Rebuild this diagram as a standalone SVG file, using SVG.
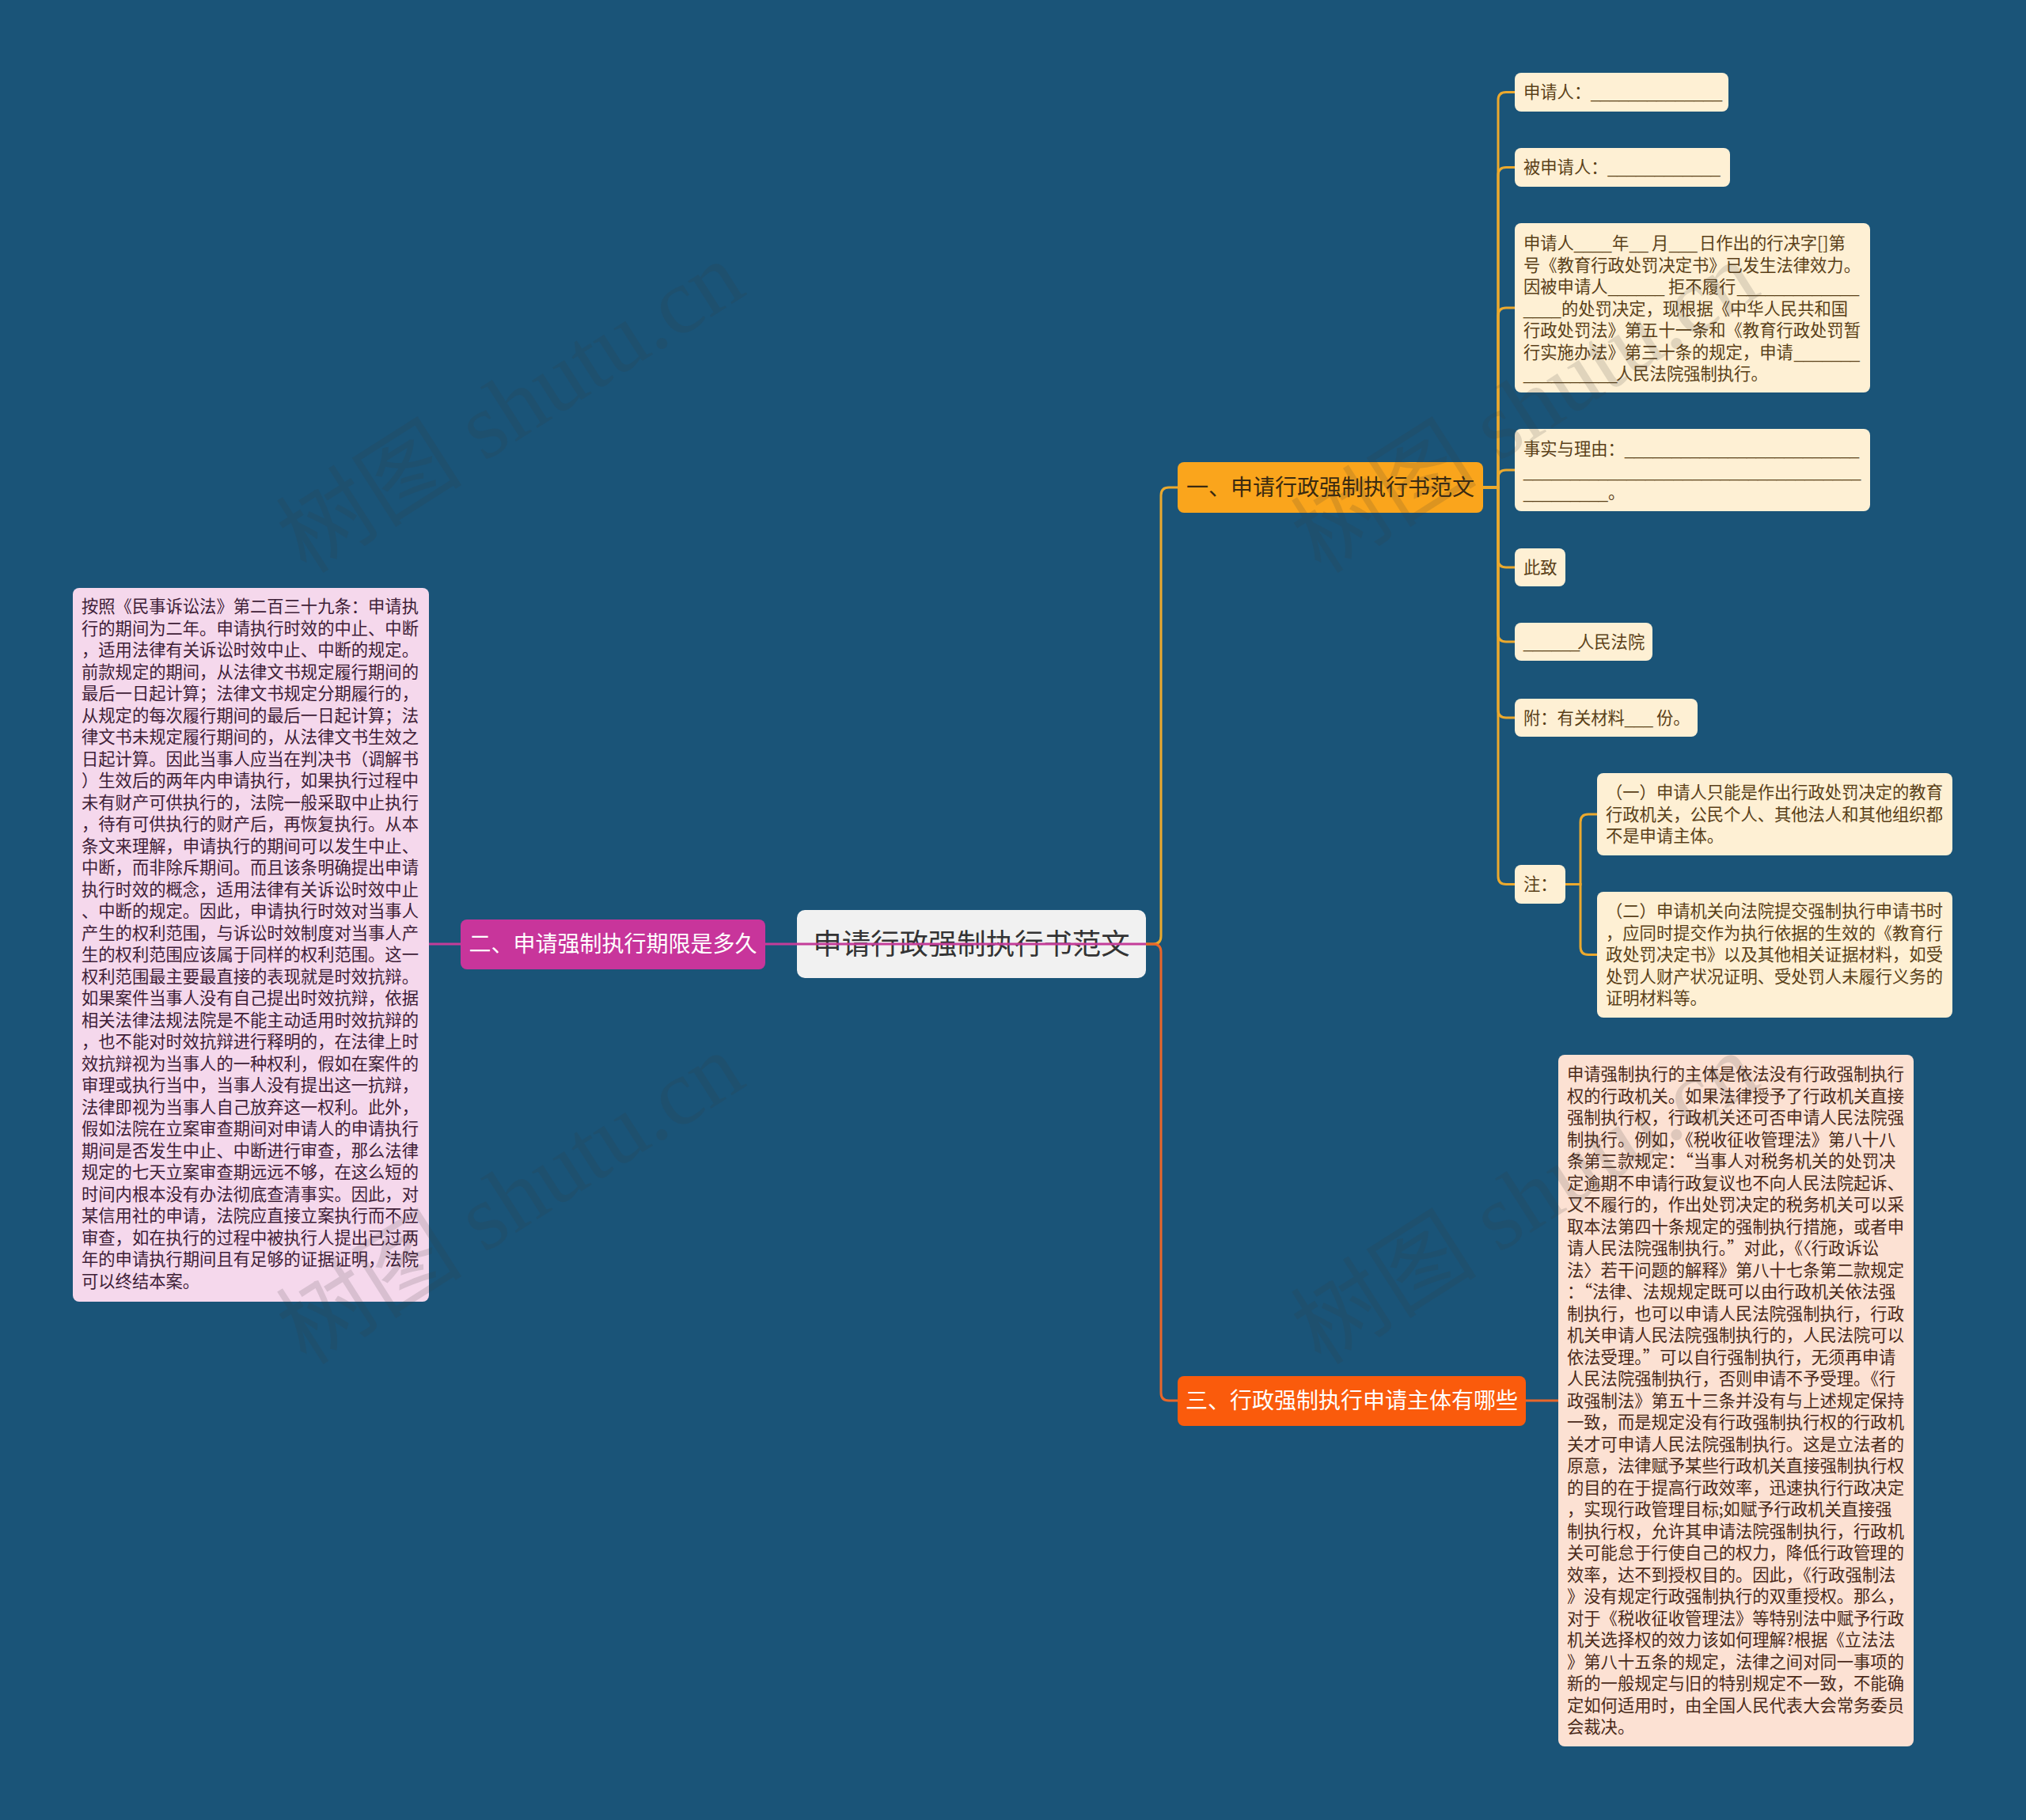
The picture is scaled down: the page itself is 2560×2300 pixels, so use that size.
<svg xmlns="http://www.w3.org/2000/svg" width="2560" height="2300" viewBox="0 0 2560 2300">
<style>
.t{font-family:'Noto Sans CJK SC','Noto Sans',sans-serif;font-size:21.3px}
.u{font-family:'Liberation Sans',sans-serif}
.cream{fill:#FEF0D4}
.ct{fill:#5a4018}
.pt{fill:#3e2037}
.ot{fill:#4a2a1a}
.bt{font-family:'Noto Sans CJK SC','Noto Sans',sans-serif;font-size:28px;text-anchor:middle}
.ly{fill:none;stroke:#EBA92E;stroke-width:3}
.lm{fill:none;stroke:#C43D99;stroke-width:3}
.lo{fill:none;stroke:#E8662A;stroke-width:3}
.wm{font-family:'Liberation Serif','Noto Sans CJK SC',serif;font-size:118px;fill:#3a3a3a;opacity:0.15;text-anchor:middle}
</style>
<rect x="0" y="0" width="2560" height="2300" fill="#1a5478"/>

<g id="root">
<rect x="1007" y="1150" width="441" height="86" rx="10" fill="#F1F1F1"/>
<text x="1227.5" y="1206" font-family="'Noto Sans CJK SC','Noto Sans',sans-serif" font-size="36.4" fill="#333333" text-anchor="middle">申请行政强制执行书范文</text>
</g>

<g id="branch1">
<rect x="1488" y="584" width="386" height="64" rx="8" fill="#FAA51C"/>
<text class="bt" x="1681" y="626" fill="#3a2a10">一、申请行政强制执行书范文</text>
</g>

<g id="branch2">
<rect x="582" y="1162" width="385" height="63" rx="8" fill="#C8359B"/>
<text class="bt" x="774.5" y="1203" fill="#ffffff">二、申请强制执行期限是多久</text>
</g>

<g id="branch3">
<rect x="1488" y="1739" width="440" height="63" rx="8" fill="#FA5B0C"/>
<text class="bt" x="1708" y="1780" fill="#ffffff">三、行政强制执行申请主体有哪些</text>
</g>

<g id="leaf-applicant">
<rect class="cream" x="1914" y="92" width="270" height="49" rx="8"/>
<text class="t ct" x="1925" y="124">申请人：<tspan class="u">______________</tspan></text>
</g>

<g id="leaf-respondent">
<rect class="cream" x="1914" y="187" width="272" height="49" rx="8"/>
<text class="t ct" x="1925" y="219">被申请人：<tspan class="u">____________</tspan></text>
</g>

<g id="leaf-body">
<rect class="cream" x="1914" y="282" width="449" height="214" rx="8"/>
<text class="t ct">
<tspan x="1925" y="315">申请人</tspan><tspan class="u" x="1989" y="315">____</tspan><tspan x="2037" y="315">年</tspan><tspan class="u" x="2059" y="315">__</tspan><tspan x="2087" y="315">月</tspan><tspan class="u" x="2109" y="315">___</tspan><tspan x="2147" y="315">日作出的行决字[]第</tspan>
<tspan x="1925" y="342.5">号《教育行政处罚决定书》已发生法律效力。</tspan>
<tspan x="1925" y="370">因被申请人</tspan><tspan class="u" x="2032" y="370">______</tspan><tspan x="2108" y="370">拒不履行</tspan><tspan class="u" x="2195" y="370">_____________</tspan>
<tspan class="u" x="1925" y="397.5">____</tspan><tspan x="1973" y="397.5">的处罚决定，现根据《中华人民共和国</tspan>
<tspan x="1925" y="425">行政处罚法》第五十一条和《教育行政处罚暂</tspan>
<tspan x="1925" y="452.5">行实施办法》第三十条的规定，申请</tspan><tspan class="u" x="2267" y="452.5">_______</tspan>
<tspan class="u" x="1925" y="480">__________</tspan><tspan x="2042" y="480">人民法院强制执行。</tspan>
</text>
</g>

<g id="leaf-facts">
<rect class="cream" x="1914" y="542" width="449" height="104" rx="8"/>
<text class="t ct">
<tspan x="1925" y="575">事实与理由：</tspan><tspan class="u" x="2053" y="575">_________________________</tspan>
<tspan class="u" x="1925" y="602.5">____________________________________</tspan>
<tspan class="u" x="1925" y="630">_________</tspan><tspan x="2032" y="630">。</tspan>
</text>
</g>

<g id="leaf-cizhi">
<rect class="cream" x="1914" y="693" width="64" height="48" rx="8"/>
<text class="t ct" x="1925" y="724.5">此致</text>
</g>

<g id="leaf-court">
<rect class="cream" x="1914" y="787" width="174" height="48" rx="8"/>
<text class="t ct" y="818.5"><tspan class="u" x="1925">______</tspan><tspan x="1993">人民法院</tspan></text>
</g>

<g id="leaf-attach">
<rect class="cream" x="1914" y="883" width="231" height="48" rx="8"/>
<text class="t ct" y="914.5"><tspan x="1925">附：有关材料</tspan><tspan class="u" x="2053">___</tspan><tspan x="2093">份。</tspan></text>
</g>

<g id="leaf-note">
<rect class="cream" x="1914" y="1093" width="64" height="49" rx="8"/>
<text class="t ct" x="1925" y="1125">注：</text>
</g>

<g id="note-1">
<rect class="cream" x="2018" y="977" width="449" height="104" rx="8"/>
<text class="t ct">
<tspan x="2029" y="1009">（一）申请人只能是作出行政处罚决定的教育</tspan>
<tspan x="2029" y="1036.5">行政机关，公民个人、其他法人和其他组织都</tspan>
<tspan x="2029" y="1064">不是申请主体。</tspan>
</text>
</g>

<g id="note-2">
<rect class="cream" x="2018" y="1127" width="449" height="159" rx="8"/>
<text class="t ct">
<tspan x="2029" y="1159">（二）申请机关向法院提交强制执行申请书时</tspan>
<tspan x="2029" y="1186.5">，应同时提交作为执行依据的生效的《教育行</tspan>
<tspan x="2029" y="1214">政处罚决定书》以及其他相关证据材料，如受</tspan>
<tspan x="2029" y="1241.5">处罚人财产状况证明、受处罚人未履行义务的</tspan>
<tspan x="2029" y="1269">证明材料等。</tspan>
</text>
</g>

<g id="leaf-period">
<rect x="92" y="743" width="450" height="902" rx="8" fill="#F5D8EC"/>
<text class="t pt" y="774">
<tspan x="103">按照《民事诉讼法》第二百三十九条：申请执</tspan>
<tspan x="103" dy="27.5">行的期间为二年。申请执行时效的中止、中断</tspan>
<tspan x="103" dy="27.5">，适用法律有关诉讼时效中止、中断的规定。</tspan>
<tspan x="103" dy="27.5">前款规定的期间，从法律文书规定履行期间的</tspan>
<tspan x="103" dy="27.5">最后一日起计算；法律文书规定分期履行的，</tspan>
<tspan x="103" dy="27.5">从规定的每次履行期间的最后一日起计算；法</tspan>
<tspan x="103" dy="27.5">律文书未规定履行期间的，从法律文书生效之</tspan>
<tspan x="103" dy="27.5">日起计算。因此当事人应当在判决书（调解书</tspan>
<tspan x="103" dy="27.5">）生效后的两年内申请执行，如果执行过程中</tspan>
<tspan x="103" dy="27.5">未有财产可供执行的，法院一般采取中止执行</tspan>
<tspan x="103" dy="27.5">，待有可供执行的财产后，再恢复执行。从本</tspan>
<tspan x="103" dy="27.5">条文来理解，申请执行的期间可以发生中止、</tspan>
<tspan x="103" dy="27.5">中断，而非除斥期间。而且该条明确提出申请</tspan>
<tspan x="103" dy="27.5">执行时效的概念，适用法律有关诉讼时效中止</tspan>
<tspan x="103" dy="27.5">、中断的规定。因此，申请执行时效对当事人</tspan>
<tspan x="103" dy="27.5">产生的权利范围，与诉讼时效制度对当事人产</tspan>
<tspan x="103" dy="27.5">生的权利范围应该属于同样的权利范围。这一</tspan>
<tspan x="103" dy="27.5">权利范围最主要最直接的表现就是时效抗辩。</tspan>
<tspan x="103" dy="27.5">如果案件当事人没有自己提出时效抗辩，依据</tspan>
<tspan x="103" dy="27.5">相关法律法规法院是不能主动适用时效抗辩的</tspan>
<tspan x="103" dy="27.5">，也不能对时效抗辩进行释明的，在法律上时</tspan>
<tspan x="103" dy="27.5">效抗辩视为当事人的一种权利，假如在案件的</tspan>
<tspan x="103" dy="27.5">审理或执行当中，当事人没有提出这一抗辩，</tspan>
<tspan x="103" dy="27.5">法律即视为当事人自己放弃这一权利。此外，</tspan>
<tspan x="103" dy="27.5">假如法院在立案审查期间对申请人的申请执行</tspan>
<tspan x="103" dy="27.5">期间是否发生中止、中断进行审查，那么法律</tspan>
<tspan x="103" dy="27.5">规定的七天立案审查期远远不够，在这么短的</tspan>
<tspan x="103" dy="27.5">时间内根本没有办法彻底查清事实。因此，对</tspan>
<tspan x="103" dy="27.5">某信用社的申请，法院应直接立案执行而不应</tspan>
<tspan x="103" dy="27.5">审查，如在执行的过程中被执行人提出已过两</tspan>
<tspan x="103" dy="27.5">年的申请执行期间且有足够的证据证明，法院</tspan>
<tspan x="103" dy="27.5">可以终结本案。</tspan>
</text>
</g>

<g id="leaf-subject">
<rect x="1969" y="1333" width="449" height="874" rx="8" fill="#FCE1D3"/>
<text class="t ot" y="1365">
<tspan x="1980">申请强制执行的主体是依法没有行政强制执行</tspan>
<tspan x="1980" dy="27.5">权的行政机关。如果法律授予了行政机关直接</tspan>
<tspan x="1980" dy="27.5">强制执行权，行政机关还可否申请人民法院强</tspan>
<tspan x="1980" dy="27.5">制执行。例如，《税收征收管理法》第八十八</tspan>
<tspan x="1980" dy="27.5">条第三款规定：“当事人对税务机关的处罚决</tspan>
<tspan x="1980" dy="27.5">定逾期不申请行政复议也不向人民法院起诉、</tspan>
<tspan x="1980" dy="27.5">又不履行的，作出处罚决定的税务机关可以采</tspan>
<tspan x="1980" dy="27.5">取本法第四十条规定的强制执行措施，或者申</tspan>
<tspan x="1980" dy="27.5">请人民法院强制执行。”对此，《〈行政诉讼</tspan>
<tspan x="1980" dy="27.5">法〉若干问题的解释》第八十七条第二款规定</tspan>
<tspan x="1980" dy="27.5">：“法律、法规规定既可以由行政机关依法强</tspan>
<tspan x="1980" dy="27.5">制执行，也可以申请人民法院强制执行，行政</tspan>
<tspan x="1980" dy="27.5">机关申请人民法院强制执行的，人民法院可以</tspan>
<tspan x="1980" dy="27.5">依法受理。”可以自行强制执行，无须再申请</tspan>
<tspan x="1980" dy="27.5">人民法院强制执行，否则申请不予受理。《行</tspan>
<tspan x="1980" dy="27.5">政强制法》第五十三条并没有与上述规定保持</tspan>
<tspan x="1980" dy="27.5">一致，而是规定没有行政强制执行权的行政机</tspan>
<tspan x="1980" dy="27.5">关才可申请人民法院强制执行。这是立法者的</tspan>
<tspan x="1980" dy="27.5">原意，法律赋予某些行政机关直接强制执行权</tspan>
<tspan x="1980" dy="27.5">的目的在于提高行政效率，迅速执行行政决定</tspan>
<tspan x="1980" dy="27.5">，实现行政管理目标;如赋予行政机关直接强</tspan>
<tspan x="1980" dy="27.5">制执行权，允许其申请法院强制执行，行政机</tspan>
<tspan x="1980" dy="27.5">关可能怠于行使自己的权力，降低行政管理的</tspan>
<tspan x="1980" dy="27.5">效率，达不到授权目的。因此，《行政强制法</tspan>
<tspan x="1980" dy="27.5">》没有规定行政强制执行的双重授权。那么，</tspan>
<tspan x="1980" dy="27.5">对于《税收征收管理法》等特别法中赋予行政</tspan>
<tspan x="1980" dy="27.5">机关选择权的效力该如何理解?根据《立法法</tspan>
<tspan x="1980" dy="27.5">》第八十五条的规定，法律之间对同一事项的</tspan>
<tspan x="1980" dy="27.5">新的一般规定与旧的特别规定不一致，不能确</tspan>
<tspan x="1980" dy="27.5">定如何适用时，由全国人民代表大会常务委员</tspan>
<tspan x="1980" dy="27.5">会裁决。</tspan>
</text>
</g>

<g id="connectors">
<path class="ly" d="M1448 1193 H1457 Q1467 1193 1467 1183 V626 Q1467 616 1477 616 H1488"/>
<path class="lo" d="M1448 1193 H1457 Q1467 1193 1467 1203 V1760 Q1467 1770 1477 1770 H1488"/>
<path class="lo" d="M1928 1770 H1969"/>
<path class="lm" d="M967 1193 H1448"/>
<path class="lm" d="M542 1193 H582"/>
<path class="ly" d="M1874 616 H1893 V126.5 Q1893 116.5 1903 116.5 H1914"/>
<path class="ly" d="M1874 616 H1893 V221.5 Q1893 211.5 1903 211.5 H1914"/>
<path class="ly" d="M1874 616 H1893 V399 Q1893 389 1903 389 H1914"/>
<path class="ly" d="M1874 616 H1893 V604 Q1893 594 1903 594 H1914"/>
<path class="ly" d="M1874 616 H1893 V707 Q1893 717 1903 717 H1914"/>
<path class="ly" d="M1874 616 H1893 V801 Q1893 811 1903 811 H1914"/>
<path class="ly" d="M1874 616 H1893 V897 Q1893 907 1903 907 H1914"/>
<path class="ly" d="M1874 616 H1893 V1107.5 Q1893 1117.5 1903 1117.5 H1914"/>
<path class="ly" d="M1978 1117.5 H1997 V1039 Q1997 1029 2007 1029 H2018"/>
<path class="ly" d="M1978 1117.5 H1997 V1196.5 Q1997 1206.5 2007 1206.5 H2018"/>
</g>

<g id="watermarks">
<text class="wm" transform="translate(645 515) rotate(-32.5)" y="40">树图 shutu.cn</text>
<text class="wm" transform="translate(1927 515) rotate(-32.5)" y="40">树图 shutu.cn</text>
<text class="wm" transform="translate(645 1515) rotate(-32.5)" y="40">树图 shutu.cn</text>
<text class="wm" transform="translate(1927 1515) rotate(-32.5)" y="40">树图 shutu.cn</text>
</g>
</svg>
